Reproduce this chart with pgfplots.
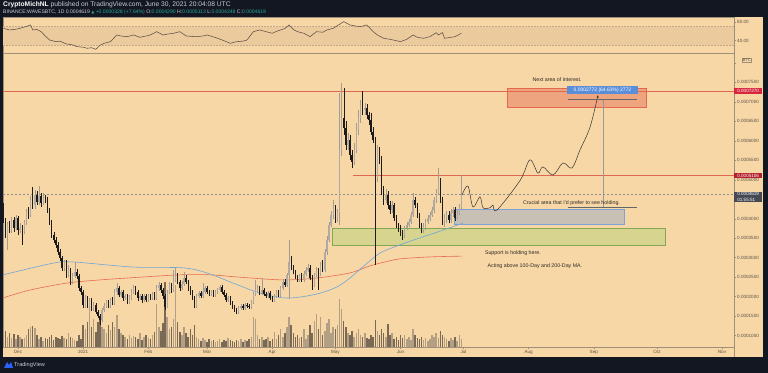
\documentclass[border=0pt]{standalone}
\usepackage{pgfplots}
\pgfplotsset{compat=1.18}
\usepackage{pgfplotstable}
\usetikzlibrary{arrows.meta}
\usepackage{fontspec}
\setmainfont{Liberation Sans}
\newfontfamily\symfont{DejaVu Sans}
\definecolor{tvdark}{HTML}{131722}
\definecolor{peach}{HTML}{F8D7A6}
\definecolor{rsiband}{HTML}{EBCA9D}
\definecolor{rsidash}{HTML}{BFA98A}
\definecolor{rsiline}{HTML}{5E5244}
\definecolor{tvframe}{HTML}{A08F78}
\definecolor{upbody}{HTML}{B0AAA2}
\definecolor{upwick}{HTML}{A29C95}
\definecolor{dnbody}{HTML}{1E1C1A}
\definecolor{volup}{HTML}{B39F83}
\definecolor{voldn}{HTML}{7A6A55}
\definecolor{ma100}{HTML}{6EA6D8}
\definecolor{ma200}{HTML}{E56B55}
\definecolor{lvl}{HTML}{E0674F}
\definecolor{lblred}{HTML}{D7263D}
\definecolor{lbldred}{HTML}{B3212F}
\definecolor{lblgray}{HTML}{454954}
\definecolor{zonered}{HTML}{E4674E}
\definecolor{zonegreen}{HTML}{A5D16B}
\definecolor{zonegray}{HTML}{A8B0C0}
\definecolor{zoneblue}{HTML}{7BA3D8}
\definecolor{measblue}{HTML}{5B8ED8}
\definecolor{axtext}{HTML}{5A5248}
\definecolor{anntext}{HTML}{2E2A25}
\definecolor{hdrtext}{HTML}{C9CCD4}
\definecolor{tvteal}{HTML}{26A69A}
\definecolor{tvblue}{HTML}{2962FF}

\pgfplotstableread{
d o h l c v
-38 4.30 4.40 3.90 3.97 12
-37 3.97 4.02 3.50 3.58 16
-36 3.58 3.92 3.20 3.84 10
-35 3.84 3.95 3.63 3.71 14
-34 3.71 4.05 3.63 3.97 9
-33 3.97 4.05 3.66 3.76 13
-32 3.76 4.10 3.70 4.02 8
-31 4.02 4.08 3.58 3.71 12
-30 3.71 3.90 3.63 3.76 10
-29 3.76 3.85 3.33 3.66 8
-28 3.66 3.97 3.60 3.92 9
-27 3.92 4.25 3.85 4.17 12
-26 4.17 4.30 4.00 4.10 18
-25 4.10 4.58 4.05 4.48 20
-24 4.48 4.81 4.25 4.35 21
-23 4.35 4.74 4.25 4.61 19
-22 4.61 4.70 4.35 4.43 12
-21 4.43 4.84 4.35 4.58 8
-20 4.58 4.66 4.30 4.40 10
-19 4.40 4.66 4.35 4.53 6
-18 4.53 4.62 4.40 4.48 9
-17 4.48 4.55 4.15 4.22 8
-16 4.22 4.28 3.85 3.92 10
-15 3.92 3.97 3.50 3.58 12
-14 3.58 3.66 3.38 3.45 7
-13 3.45 3.52 3.25 3.33 10
-12 3.33 3.40 3.08 3.15 9
-11 3.15 3.22 2.92 2.99 8
-10 2.99 3.05 2.66 2.74 11
-9 2.74 2.95 2.66 2.89 9
-8 2.89 2.95 2.48 2.56 8
-7 2.56 2.80 2.50 2.68 14
-6 2.68 2.74 2.30 2.38 10
-5 2.38 2.60 2.32 2.53 9
-4 2.53 2.89 2.48 2.63 7
-3 2.63 2.70 2.45 2.53 6
-2 2.53 2.58 2.15 2.22 12
-1 2.22 2.28 2.05 2.12 8
0 2.12 2.18 1.72 1.79 22
1 1.79 2.05 1.72 1.97 18
2 1.97 2.02 1.70 1.76 25
3 1.76 1.97 1.68 1.91 38
4 1.91 1.97 1.64 1.71 20
5 1.71 1.86 1.64 1.79 28
6 1.79 1.84 1.55 1.61 15
7 1.61 1.66 1.45 1.50 25
8 1.50 1.56 1.27 1.40 30
9 1.40 1.72 1.35 1.66 20
10 1.66 1.84 1.60 1.76 18
11 1.76 1.92 1.70 1.86 14
12 1.86 1.92 1.70 1.76 22
13 1.76 1.97 1.70 1.91 17
14 1.91 2.00 1.78 1.84 25
15 1.84 2.20 1.78 2.12 20
16 2.12 2.35 2.05 2.22 32
17 2.22 2.28 1.98 2.04 18
18 2.04 2.18 1.98 2.12 14
19 2.12 2.18 1.90 1.97 12
20 1.97 2.08 1.92 2.02 10
21 2.02 2.07 1.80 1.86 8
22 1.86 2.04 1.80 1.97 12
23 1.97 2.20 1.92 2.12 9
24 2.12 2.30 2.06 2.22 11
25 2.22 2.28 2.05 2.12 10
26 2.12 2.17 1.90 1.97 8
27 1.97 2.08 1.92 2.02 14
28 2.02 2.06 1.85 1.91 7
29 1.91 2.07 1.86 2.02 10
30 2.02 2.07 1.86 1.91 12
31 1.91 2.06 1.86 2.02 9
32 2.02 2.08 1.92 1.97 8
33 1.97 2.12 1.92 2.07 12
34 2.07 2.12 1.92 1.97 15
35 1.97 2.30 1.92 2.22 43
36 2.22 2.38 2.15 2.30 20
37 2.30 2.35 2.10 2.17 16
38 2.17 2.22 1.95 2.02 24
39 2.02 2.08 1.66 1.74 65
40 1.74 2.18 1.70 2.12 30
41 2.12 2.38 2.07 2.30 18
42 2.30 2.35 2.10 2.17 20
43 2.17 2.68 2.12 2.43 28
44 2.43 2.74 2.38 2.53 62
45 2.53 2.60 2.32 2.38 25
46 2.38 2.43 2.15 2.22 15
47 2.22 2.40 2.17 2.32 12
48 2.32 2.63 2.28 2.48 20
49 2.48 2.55 2.32 2.38 14
50 2.38 2.43 2.15 2.22 10
51 2.22 2.28 2.05 2.12 18
52 2.12 2.18 1.92 1.97 12
53 1.97 2.02 1.70 1.76 22
54 1.76 2.07 1.72 2.02 10
55 2.02 2.15 1.97 2.09 8
56 2.09 2.15 1.97 2.02 6
57 2.02 2.35 1.97 2.12 9
58 2.12 2.28 2.07 2.22 7
59 2.22 2.27 2.07 2.12 5
60 2.12 2.17 2.02 2.07 8
61 2.07 2.17 2.02 2.12 6
62 2.12 2.17 2.00 2.04 7
63 2.04 2.17 2.00 2.12 5
64 2.12 2.22 2.07 2.17 6
65 2.17 2.30 2.12 2.25 8
66 2.25 2.30 2.07 2.12 5
67 2.12 2.17 2.00 2.04 7
68 2.04 2.09 1.86 1.91 6
69 1.91 2.02 1.86 1.97 9
70 1.97 2.02 1.79 1.84 7
71 1.84 1.89 1.69 1.74 6
72 1.74 1.79 1.61 1.66 5
73 1.66 1.71 1.56 1.61 7
74 1.61 1.76 1.56 1.71 6
75 1.71 1.81 1.66 1.76 8
76 1.76 1.81 1.66 1.71 5
77 1.71 1.84 1.66 1.79 7
78 1.79 1.84 1.71 1.76 6
79 1.76 1.81 1.69 1.74 8
80 1.74 1.91 1.69 1.86 10
81 1.86 2.12 1.81 2.07 30
82 2.07 2.43 2.02 2.17 28
83 2.17 2.30 2.12 2.22 12
84 2.22 2.28 2.04 2.09 8
85 2.09 2.48 2.04 2.17 10
86 2.17 2.22 2.02 2.07 7
87 2.07 2.12 1.97 2.02 8
88 2.02 2.15 1.97 2.09 10
89 2.09 2.14 1.92 1.97 6
90 1.97 2.02 1.86 1.91 8
91 1.91 2.07 1.86 2.02 15
92 2.02 2.17 1.97 2.12 8
93 2.12 2.17 1.99 2.04 12
94 2.04 2.28 1.99 2.22 18
95 2.22 2.45 2.17 2.38 10
96 2.38 2.45 2.25 2.30 14
97 2.30 2.62 2.25 2.56 20
98 2.56 3.45 1.95 2.89 30
99 2.89 3.05 2.68 2.74 22
100 2.74 2.80 2.58 2.63 14
101 2.63 2.68 2.45 2.50 10
102 2.50 2.56 2.38 2.43 12
103 2.43 2.58 2.38 2.53 9
104 2.53 2.60 2.38 2.43 10
105 2.43 2.65 2.38 2.58 18
106 2.58 2.75 2.53 2.68 8
107 2.68 2.85 2.63 2.74 12
108 2.74 2.80 2.43 2.48 22
109 2.48 2.55 2.17 2.30 14
110 2.30 2.62 2.25 2.56 26
111 2.56 2.75 2.50 2.68 33
112 2.68 2.74 2.17 2.58 18
113 2.58 2.89 2.53 2.81 30
114 2.81 2.95 2.63 2.68 12
115 2.68 3.22 2.63 3.15 16
116 3.15 3.55 3.08 3.45 24
117 3.45 3.92 3.40 3.84 28
118 3.84 4.20 3.78 4.10 14
119 4.10 4.48 4.00 4.28 20
120 4.28 4.35 3.90 3.97 18
121 3.97 4.25 3.92 4.17 22
122 4.17 7.23 3.84 5.76 48
123 5.76 7.48 5.60 6.58 38
124 6.58 7.35 6.15 6.33 26
125 6.33 6.50 5.75 5.89 20
126 5.89 6.20 5.75 6.02 14
127 6.02 6.15 5.50 5.63 12
128 5.63 5.75 5.30 5.45 16
129 5.45 5.95 5.38 5.76 10
130 5.76 6.45 5.68 6.28 14
131 6.28 6.80 6.15 6.58 18
132 6.58 7.05 6.45 6.92 12
133 6.92 7.28 6.65 6.79 10
134 6.79 6.98 6.65 6.84 14
135 6.84 6.95 6.55 6.66 9
136 6.66 6.75 6.40 6.53 8
137 6.53 6.70 6.15 6.22 12
138 6.22 6.35 5.95 6.02 10
139 6.02 6.10 2.81 5.04 27
140 5.04 5.90 4.95 5.76 16
141 5.76 5.85 5.40 5.51 12
142 5.51 5.60 4.62 4.74 18
143 4.74 4.85 4.35 4.48 14
144 4.48 4.75 4.40 4.61 10
145 4.61 4.70 4.25 4.35 23
146 4.35 4.45 4.12 4.22 12
147 4.22 4.45 4.15 4.35 14
148 4.35 4.40 3.95 4.02 8
149 4.02 4.10 3.75 3.84 10
150 3.84 3.90 3.66 3.76 7
151 3.76 3.85 3.56 3.63 12
152 3.63 3.72 3.45 3.56 9
153 3.56 3.82 3.50 3.76 12
154 3.76 3.92 3.70 3.84 8
155 3.84 4.00 3.78 3.92 10
156 3.92 4.18 3.86 4.10 7
157 4.10 4.66 4.05 4.48 18
158 4.48 4.55 4.28 4.35 12
159 4.35 4.40 4.02 4.10 9
160 4.10 4.15 3.76 3.84 8
161 3.84 3.90 3.63 3.71 10
162 3.71 3.88 3.63 3.79 7
163 3.79 3.98 3.72 3.92 9
164 3.92 4.10 3.86 4.02 6
165 4.02 4.18 3.95 4.10 8
166 4.10 4.30 4.05 4.22 12
167 4.22 4.55 4.15 4.48 10
168 4.48 4.75 4.40 4.66 14
169 4.66 5.30 4.60 4.99 9
170 4.99 5.05 4.40 4.48 16
171 4.48 4.55 3.85 3.97 12
172 3.97 4.12 3.80 4.02 10
173 4.02 4.20 3.90 4.10 8
174 4.10 4.20 3.88 3.97 6
175 3.97 4.25 3.90 4.15 9
176 4.15 4.30 4.05 4.22 7
177 4.22 4.30 3.95 4.02 10
178 4.02 4.25 3.98 4.15 6
179 4.15 4.38 4.10 4.29 12
180 4.290 5.113 4.248 4.619 8
}\ohlc

\begin{document}
\begin{tikzpicture}
\fill[tvdark] (0,0) rectangle (768bp,373bp);
\fill[peach] (3bp,15.5bp) rectangle (763bp,355.7bp);
\draw[tvframe, line width=0.5bp] (734bp,15.5bp) -- (734bp,26bp);

% ---------- RSI pane ----------
\begin{axis}[at={(3bp,319.7bp)}, anchor=south west, scale only axis,
  width=731bp, height=36bp, xmin=-38.14, xmax=309.71, ymin=13, ymax=90,
  axis line style={draw=tvframe, line width=0.5bp},
  xtick=\empty, ytick={40,80}, yticklabels={40.00,80.00},
  ytick pos=right, yticklabel pos=right, tick align=outside, major tick length=2bp,
  tick style={draw=tvframe, line width=0.4bp},
  yticklabel style={font=\fontsize{4.6}{5}\selectfont, text=axtext, inner sep=1bp}]
\addplot[fill=rsiband, draw=none] coordinates {(-38.14,30) (309.71,30) (309.71,70) (-38.14,70)} -- cycle;
\addplot[rsidash, dash pattern=on 1.5bp off 1.5bp, line width=0.4bp] coordinates {(-38.14,70) (309.71,70)};
\addplot[rsidash, dash pattern=on 1.5bp off 1.5bp, line width=0.4bp] coordinates {(-38.14,30) (309.71,30)};
\addplot[rsiline, line width=0.55bp] coordinates {
(-38,66.5) (-35,62.9) (-32,64.5) (-30,66.5) (-27,70.5) (-25,73.6) (-24,62.9) (-22,64) (-20,59.3)
(-18,50) (-16,41.5) (-13,37.9) (-11,39) (-8,33.0) (-5,31) (-3,27.2) (0,26) (2,23.7) (4,25) (6,21.5)
(8,30) (10,34.4) (13,37.9) (16,52.2) (18,50) (21,48.6) (24,52.2) (27,47.2) (30,50) (32,52.2)
(35,59.3) (38,52.2) (40,54) (43,55.8) (46,59.3) (49,50.1) (52,49) (54,48.6) (57,50) (59,52.2)
(62,48) (64,45.1) (67,40) (70,34.4) (73,37.9) (76,39) (78,41.5) (81,59.3) (84,62.9) (87,59.3)
(90,55.8) (92,60) (94,62.9) (96,66) (98,73.6) (100,64) (102,59.3) (105,55.8) (108,48.6) (111,59.3)
(114,58) (116,62.9) (119,66.5) (122,75) (124,80.7) (127,73.6) (130,71) (132,70.0) (135,73.6)
(138,59.3) (140,52.2) (143,45.1) (146,42.9) (149,40) (151,37.9) (154,42.9) (157,52.2) (159,47.2)
(162,45.1) (165,48.6) (168,57.2) (169,52.2) (171,57.2) (172,45.1) (175,47.2) (177,48.6) (180,55.8)};
\end{axis}

% ---------- Volume (overlay) ----------
\begin{axis}[at={(3bp,26bp)}, anchor=south west, scale only axis,
  width=731bp, height=294bp, xmin=-38.14, xmax=309.71, ymin=0, ymax=294, hide axis]
\addplot[ycomb, mark=none, volup, line width=1.5bp, unbounded coords=discard]
  table[x=d, y expr={\thisrow{c}>=\thisrow{o} ? \thisrow{v} : nan}] {\ohlc};
\addplot[ycomb, mark=none, voldn, line width=1.5bp, unbounded coords=discard]
  table[x=d, y expr={\thisrow{c}<\thisrow{o} ? \thisrow{v} : nan}] {\ohlc};
\end{axis}

% ---------- Main price pane ----------
\begin{axis}[at={(3bp,26bp)}, anchor=south west, scale only axis,
  width=731bp, height=294bp, xmin=-38.14, xmax=309.71, ymin=0.709, ymax=8.251,
  clip=false,
  axis line style={draw=tvframe, line width=0.5bp},
  xtick={-31,0,31,59,90,120,151,181,212,243,273,304},
  xticklabels={Dec,2021,Feb,Mar,Apr,May,Jun,Jul,Aug,Sep,Oct,Nov},
  ytick={1,1.5,2,2.5,3,3.5,4,4.5,5,5.5,6,6.5,7,7.5,8},
  yticklabels={0.0001000,0.0001500,0.0002000,0.0002500,0.0003000,0.0003500,0.0004000,{},0.0005000,0.0005500,0.0006000,0.0006500,0.0007000,0.0007500,{}},
  xtick pos=bottom, ytick pos=right, yticklabel pos=right,
  tick align=outside, major tick length=2bp,
  tick style={draw=tvframe, line width=0.4bp},
  ticklabel style={font=\fontsize{4.6}{5}\selectfont, text=axtext},
  xticklabel style={inner sep=1.2bp},
  yticklabel style={inner sep=1bp}]
% levels
\addplot[lvl, line width=0.6bp] coordinates {(-38.14,7.27) (309.71,7.27)};
\addplot[lvl, line width=0.6bp] coordinates {(128.4,5.106) (309.71,5.106)};
\addplot[black!45, line width=0.4bp, dash pattern=on 2bp off 2bp] coordinates {(-38.14,4.619) (309.71,4.619)};
% zones
\addplot[fill=zonegreen, fill opacity=0.4, draw=zonegreen!80!black, line width=0.5bp] coordinates {(118.4,3.33) (276.9,3.33) (276.9,3.76) (118.4,3.76)} -- cycle;
\addplot[fill=zonegray, fill opacity=0.6, draw=zoneblue, line width=0.6bp] coordinates {(176.5,3.86) (257.4,3.86) (257.4,4.25) (176.5,4.25)} -- cycle;
\addplot[fill=zonered, fill opacity=0.45, draw=zonered, line width=0.6bp] coordinates {(201.7,6.87) (267.8,6.87) (267.8,7.35) (201.7,7.35)} -- cycle;
% moving averages
\addplot[ma200, line width=0.6bp, smooth] coordinates {(-38.1,1.97) (-25.3,2.17) (-7.7,2.35) (8.0,2.43) (27.1,2.50) (46.1,2.56) (60.4,2.56) (74.6,2.50) (95.1,2.43) (111.3,2.48) (127.0,2.61) (136.5,2.79) (143.6,2.89) (150.8,2.97) (165.1,3.02) (180.3,3.04)};
\addplot[ma100, line width=0.6bp, smooth] coordinates {(-38.1,2.56) (-14.3,2.86) (-4.8,2.89) (23.7,2.76) (47.5,2.74) (58.9,2.61) (71.3,2.35) (84.2,2.09) (95.1,1.97) (103.2,1.99) (112.7,2.09) (120.8,2.25) (127.0,2.48) (134.1,2.81) (141.3,3.12) (150.8,3.33) (160.3,3.51) (169.8,3.68) (180.8,3.89)};
% candles: wicks
\addplot[draw=none, mark=none, unbounded coords=discard,
  error bars/.cd, y dir=plus, y explicit, error mark=none,
  error bar style={draw=upwick, solid, line width=0.45bp}]
  table[x=d, y expr={\thisrow{c}>=\thisrow{o} ? \thisrow{l} : nan}, y error expr={\thisrow{h}-\thisrow{l}}] {\ohlc};
\addplot[draw=none, mark=none, unbounded coords=discard,
  error bars/.cd, y dir=plus, y explicit, error mark=none,
  error bar style={draw=dnbody, solid, line width=0.45bp}]
  table[x=d, y expr={\thisrow{c}<\thisrow{o} ? \thisrow{l} : nan}, y error expr={\thisrow{h}-\thisrow{l}}] {\ohlc};
% candles: bodies
\addplot[draw=none, mark=none, unbounded coords=discard,
  error bars/.cd, y dir=plus, y explicit, error mark=none,
  error bar style={draw=upbody, solid, line width=1.4bp}]
  table[x=d, y expr={\thisrow{c}>=\thisrow{o} ? \thisrow{o} : nan}, y error expr={\thisrow{c}-\thisrow{o}}] {\ohlc};
\addplot[draw=none, mark=none, unbounded coords=discard,
  error bars/.cd, y dir=plus, y explicit, error mark=none,
  error bar style={draw=dnbody, solid, line width=1.4bp}]
  table[x=d, y expr={\thisrow{c}<\thisrow{o} ? \thisrow{c} : nan}, y error expr={\thisrow{o}-\thisrow{c}}] {\ohlc};
% projection path
\addplot[black!80, line width=0.5bp, smooth, tension=0.55, -{Stealth[length=2.6bp,width=2.2bp]}] coordinates {(180.3,4.61) (183.1,4.84) (185.5,4.30) (188.8,4.56) (190.3,4.28) (193.6,4.28) (195.0,4.35) (196.9,4.22) (208.0,4.99) (212.6,5.51) (216.4,5.17) (218.8,5.33) (223.6,5.12) (228.3,5.43) (232.6,5.30) (236.4,5.76) (241.2,6.35) (245.0,7.17)};
% measurement
\addplot[black!40, line width=0.5bp, -{Stealth[length=2bp,width=2bp]}] coordinates {(247.4,4.29) (247.4,7.062)};
\addplot[black!60, line width=0.5bp] coordinates {(230.7,7.062) (263.5,7.062)};
\addplot[black!60, line width=0.5bp] coordinates {(230.7,4.29) (263.5,4.29)};
\node[fill=measblue, text=white, inner sep=1bp, minimum width=71bp, minimum height=8bp, font=\fontsize{5}{6}\selectfont] at (axis cs:247.1,7.30) {0.0002772 (64.63\%) 2772};
% annotations
\node[text=anntext, font=\fontsize{5.3}{6}\selectfont] at (axis cs:225.5,7.56) {Next area of interest.};
\node[text=anntext, font=\fontsize{5.3}{6}\selectfont] at (axis cs:232.4,4.40) {Crucial area that I'd prefer to see holding.};
\node[text=anntext, font=\fontsize{5.3}{6}\selectfont] at (axis cs:204.5,3.12) {Support is holding here.};
\node[text=anntext, font=\fontsize{5.3}{6}\selectfont] at (axis cs:215,2.79) {Acting above 100-Day and 200-Day MA.};
% price scale labels
\node[fill=lblred, text=white, anchor=west, inner sep=0.6bp, minimum width=28bp, minimum height=5.5bp, font=\fontsize{4.6}{5}\selectfont] at (axis cs:309.71,7.27) {0.0007270};
\node[fill=lbldred, text=white, anchor=west, inner sep=0.6bp, minimum width=28bp, minimum height=5.5bp, font=\fontsize{4.6}{5}\selectfont] at (axis cs:309.71,5.106) {0.0005106};
\node[fill=lblgray, text=white, anchor=north west, yshift=2.8bp, inner sep=0.8bp, minimum width=28bp, align=left, font=\fontsize{4.6}{5.4}\selectfont] at (axis cs:309.71,4.619) {0.0004619\\01:55:51};
\node[fill=peach, draw=tvframe, line width=0.3bp, inner sep=0.6bp, anchor=west, xshift=8bp, font=\fontsize{4}{4.5}\selectfont, text=axtext] at (axis cs:309.71,8.07) {BTC};
\end{axis}

% ---------- header & footer ----------
\node[anchor=west, inner sep=0, text=hdrtext, font=\fontsize{6.7}{7.5}\selectfont] at (3bp,368bp) {{\color{white}\bfseries CryptoMichNL} published on TradingView.com, June 30, 2021 20:04:08 UTC};
\node[anchor=west, inner sep=0, text=hdrtext, font=\fontsize{5.1}{6}\selectfont] at (3bp,361bp) {BINANCE:WAVESBTC, 1D 0.0004619 {\color{tvteal}\symfont\fontsize{4}{5}\selectfont ▲} {\color{tvteal}+0.0000328 (+7.64\%)} O:{\color{tvteal}0.0004290} H:{\color{tvteal}0.0005113} L:{\color{tvteal}0.0004248} C:{\color{tvteal}0.0004619}};
\fill[tvblue] (4bp,5bp) -- (7bp,11bp) -- (9bp,8bp) -- (11bp,11bp) -- (13bp,5bp) -- cycle;
\node[anchor=west, inner sep=0, text=hdrtext, font=\fontsize{5.6}{6}\selectfont] at (14bp,8bp) {TradingView};
\pgfresetboundingbox
\useasboundingbox (0,0) rectangle (768bp,373bp);
\end{tikzpicture}
\end{document}
